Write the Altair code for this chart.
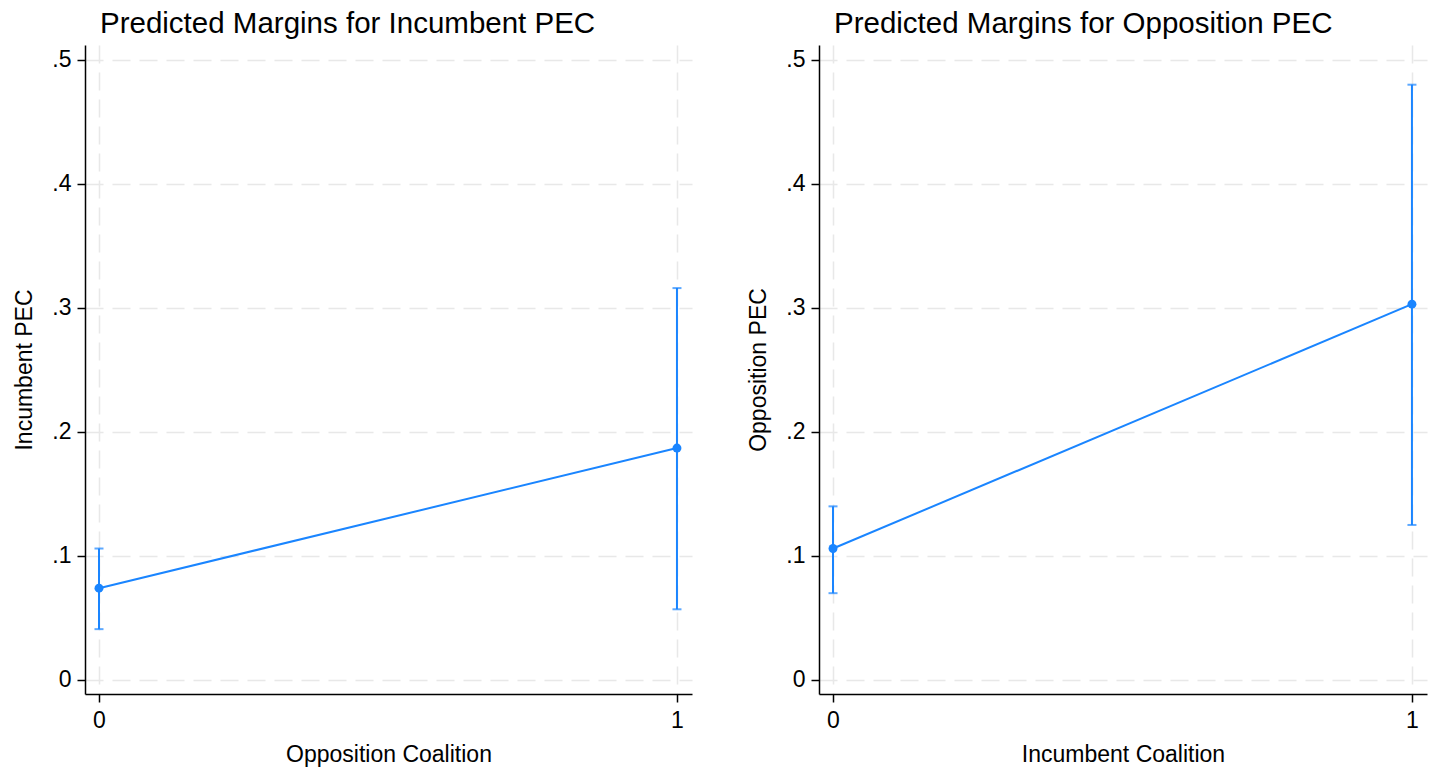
import altair as alt
import pandas as pd

# ---- data ----
x_vals = [0, 1]
inc_margin = [0.074, 0.187]
inc_lo = [0.041, 0.057]
inc_hi = [0.106, 0.316]
opp_margin = [0.106, 0.303]
opp_lo = [0.070, 0.125]
opp_hi = [0.140, 0.480]
y_ticks = [0, 0.1, 0.2, 0.3, 0.4, 0.5]
x_ticks = [0, 1]

BLUE = "#1a85ff"
FONT = "Liberation Sans"
GRID = "#e8e8e8"


def panel(title, xtitle, ytitle, m, lo, hi, w, h):
    df = pd.DataFrame({"x": x_vals, "m": m, "lo": lo, "hi": hi})
    xs = alt.Scale(domain=[-0.0242, 1.026], nice=False, zero=False)
    ys = alt.Scale(domain=[-0.0113, 0.512], nice=False, zero=False)
    xax = alt.Axis(values=x_ticks, format="d", title=xtitle, grid=True,
                   labelPadding=7, titlePadding=11)
    yax = alt.Axis(values=y_ticks, title=ytitle, grid=True,
                   labelExpr="replace(format(datum.value, '.1~f'), '0.', '.')",
                   labelPadding=6, titlePadding=15)
    base = alt.Chart(df)
    X = alt.X("x:Q", scale=xs, axis=xax)
    rule = base.mark_rule(color=BLUE, strokeWidth=2).encode(
        x=X, y=alt.Y("lo:Q", scale=ys, axis=yax), y2="hi:Q")
    cap_lo = base.mark_tick(color=BLUE, orient="horizontal", size=9, thickness=2).encode(
        x=alt.X("x:Q", scale=xs), y=alt.Y("lo:Q", scale=ys))
    cap_hi = base.mark_tick(color=BLUE, orient="horizontal", size=9, thickness=2).encode(
        x=alt.X("x:Q", scale=xs), y=alt.Y("hi:Q", scale=ys))
    line = base.mark_line(color=BLUE, strokeWidth=2).encode(
        x=alt.X("x:Q", scale=xs), y=alt.Y("m:Q", scale=ys))
    pts = base.mark_point(color=BLUE, filled=True, opacity=1, size=80).encode(
        x=alt.X("x:Q", scale=xs), y=alt.Y("m:Q", scale=ys))
    return alt.layer(rule, cap_lo, cap_hi, line, pts).properties(
        width=w, height=h,
        title=alt.TitleParams(title, anchor="start", frame="group", fontSize=29.5, font=FONT,
                              fontWeight="normal", color="black", dx=15, offset=6),
    )


left = panel("Predicted Margins for Incumbent PEC", "Opposition Coalition", "Incumbent PEC",
             inc_margin, inc_lo, inc_hi, 607, 649)
right = panel("Predicted Margins for Opposition PEC", "Incumbent Coalition", "Opposition PEC",
              opp_margin, opp_lo, opp_hi, 608, 649)

chart = alt.hconcat(left, right, spacing=54).properties(
    padding={"left": 13, "top": 8, "right": 5, "bottom": 5},
    background="white",
).configure_view(stroke="transparent").configure_axis(
    domainColor="black", domainWidth=1.5, tickColor="black", tickWidth=1.5, tickSize=8,
    labelFont=FONT, labelFontSize=23, labelColor="black",
    titleFont=FONT, titleFontSize=23, titleFontWeight="normal", titleColor="black",
    gridColor=GRID, gridDash=[18, 9], gridWidth=1.5,
)

chart.save("out.html", embed_options={"renderer": "svg", "actions": False})
